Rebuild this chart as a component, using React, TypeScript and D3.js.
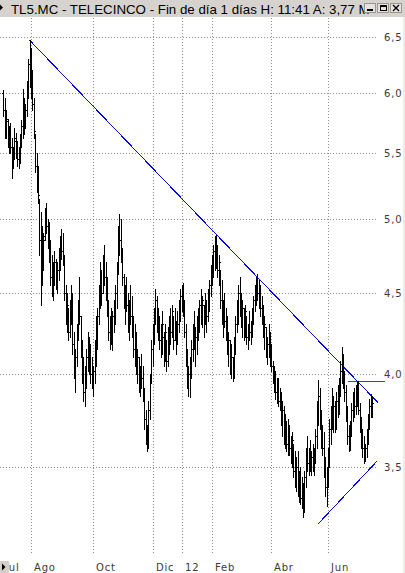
import React, { useMemo } from "react";
import * as d3 from "d3";

const W = 405;
const H = 573;

// Daily bars for TL5.MC, [open, high, low, close], one array per month
const jul11 = [
  [6.0, 6.02, 5.8, 5.85], [5.85, 5.95, 5.62, 5.7], [5.7, 5.85, 5.62, 5.78], [5.76, 5.78, 5.55, 5.6],
  [5.6, 5.72, 5.5, 5.66], [5.65, 5.74, 5.5, 5.55], [5.55, 5.62, 5.31, 5.4], [5.42, 5.55, 5.38, 5.5],
  [5.5, 5.7, 5.45, 5.62], [5.6, 5.66, 5.46, 5.52], [5.52, 5.6, 5.4, 5.45], [5.45, 5.55, 5.38, 5.5],
  [5.5, 5.65, 5.42, 5.6], [5.6, 5.77, 5.55, 5.72], [5.72, 6.03, 5.62, 5.95], [5.92, 5.95, 5.65, 5.75],
  [5.75, 5.9, 5.7, 5.85], [5.85, 6.1, 5.8, 6.05], [6.05, 6.3, 5.95, 6.25], [6.25, 6.47, 6.05, 6.15],
];
const aug11 = [
  [6.15, 6.4, 5.95, 6.0], [6.0, 6.2, 5.85, 5.9], [5.9, 5.95, 5.62, 5.68], [5.62, 5.65, 5.35, 5.4],
  [5.4, 5.5, 5.2, 5.3], [5.3, 5.4, 5.12, 5.18], [5.12, 5.15, 4.75, 4.85], [4.85, 5.05, 4.42, 4.95],
  [4.9, 4.95, 4.55, 4.7], [4.7, 4.9, 4.65, 4.85], [4.88, 5.08, 4.85, 5.0], [5.0, 5.12, 4.9, 4.95],
  [4.95, 5.0, 4.8, 4.85], [4.85, 4.98, 4.7, 4.75], [4.75, 4.85, 4.55, 4.6], [4.6, 4.75, 4.48, 4.55],
  [4.55, 4.7, 4.45, 4.62], [4.62, 4.78, 4.55, 4.7], [4.7, 4.72, 4.52, 4.58], [4.58, 4.7, 4.5, 4.65],
  [4.65, 4.8, 4.58, 4.75], [4.75, 4.88, 4.65, 4.82], [4.82, 4.93, 4.72, 4.78],
];
const sep11 = [
  [4.78, 4.9, 4.68, 4.72], [4.72, 4.75, 4.45, 4.5], [4.5, 4.55, 4.3, 4.35], [4.35, 4.5, 4.25, 4.42],
  [4.4, 4.4, 4.2, 4.25], [4.25, 4.45, 4.22, 4.4], [4.4, 4.55, 4.3, 4.48], [4.48, 4.5, 4.12, 4.18],
  [4.18, 4.25, 3.98, 4.02], [4.02, 4.15, 3.9, 4.1], [4.1, 4.3, 4.05, 4.25], [4.25, 4.45, 4.2, 4.4],
  [4.4, 4.6, 4.3, 4.35], [4.35, 4.35, 4.1, 4.15], [4.15, 4.2, 3.95, 4.0], [4.0, 4.1, 3.85, 3.9],
  [3.9, 4.05, 3.82, 4.0], [4.0, 4.15, 3.92, 4.1], [4.1, 4.25, 4.02, 4.15], [4.15, 4.22, 4.0, 4.05],
  [4.05, 4.18, 3.95, 4.0], [4.0, 4.1, 3.92, 3.98],
];
const oct11 = [
  [3.98, 4.05, 3.88, 4.02], [4.02, 4.2, 3.95, 4.15], [4.15, 4.35, 4.05, 4.3], [4.3, 4.4, 4.15, 4.35],
  [4.35, 4.55, 4.3, 4.5], [4.5, 4.7, 4.4, 4.62], [4.62, 4.65, 4.42, 4.5], [4.5, 4.75, 4.5, 4.7],
  [4.7, 4.82, 4.55, 4.6], [4.6, 4.7, 4.45, 4.5], [4.5, 4.6, 4.35, 4.4], [4.4, 4.45, 4.2, 4.25],
  [4.25, 4.35, 4.15, 4.3], [4.3, 4.4, 4.18, 4.22], [4.22, 4.38, 4.14, 4.35], [4.35, 4.45, 4.25, 4.4],
  [4.4, 4.55, 4.3, 4.5], [4.5, 4.7, 4.4, 4.65], [4.65, 4.95, 4.62, 4.9], [4.9, 5.04, 4.75, 4.85],
  [4.85, 5.0, 4.7, 4.75],
];
const nov11 = [
  [4.75, 4.8, 4.55, 4.6], [4.6, 4.62, 4.4, 4.45], [4.45, 4.55, 4.3, 4.5], [4.5, 4.6, 4.38, 4.42],
  [4.42, 4.5, 4.25, 4.3], [4.3, 4.45, 4.2, 4.4], [4.4, 4.55, 4.3, 4.35], [4.35, 4.48, 4.22, 4.25],
  [4.25, 4.35, 4.1, 4.15], [4.15, 4.3, 4.05, 4.22], [4.22, 4.25, 4.0, 4.05], [4.05, 4.15, 3.95, 4.1],
  [4.1, 4.1, 3.9, 3.95], [3.95, 4.05, 3.88, 4.0], [4.0, 4.12, 3.92, 3.98], [3.98, 4.05, 3.85, 3.88],
  [3.88, 3.92, 3.7, 3.75], [3.75, 3.8, 3.62, 3.68], [3.68, 3.72, 3.58, 3.65], [3.65, 3.85, 3.6, 3.8],
  [3.8, 4.0, 3.75, 3.95], [3.95, 4.2, 3.95, 4.15],
];
const dec11 = [
  [4.15, 4.3, 4.05, 4.25], [4.25, 4.4, 4.18, 4.35], [4.35, 4.52, 4.3, 4.45], [4.45, 4.48, 4.25, 4.3],
  [4.3, 4.4, 4.2, 4.35], [4.35, 4.35, 4.15, 4.2], [4.2, 4.3, 4.1, 4.15], [4.15, 4.38, 4.12, 4.3],
  [4.22, 4.25, 4.05, 4.1], [4.1, 4.3, 4.08, 4.25], [4.2, 4.2, 4.02, 4.08], [4.08, 4.28, 4.05, 4.22],
  [4.22, 4.35, 4.12, 4.3], [4.3, 4.4, 4.18, 4.25], [4.25, 4.42, 4.22, 4.38], [4.35, 4.35, 4.15, 4.2],
  [4.2, 4.4, 4.2, 4.32], [4.3, 4.32, 4.12, 4.18], [4.18, 4.38, 4.18, 4.3], [4.3, 4.45, 4.25, 4.4],
  [4.4, 4.52, 4.32, 4.48],
];
const jan12 = [
  [4.48, 4.55, 4.38, 4.5], [4.5, 4.56, 4.35, 4.4], [4.4, 4.45, 4.22, 4.25], [4.25, 4.3, 4.05, 4.1],
  [4.1, 4.15, 3.92, 3.95], [3.95, 4.05, 3.88, 4.0], [4.0, 4.1, 3.87, 4.05], [4.05, 4.2, 3.98, 4.15],
  [4.15, 4.3, 4.08, 4.25], [4.25, 4.38, 4.15, 4.2], [4.2, 4.28, 4.05, 4.22], [4.22, 4.35, 4.12, 4.3],
  [4.3, 4.4, 4.2, 4.35], [4.35, 4.45, 4.25, 4.42], [4.42, 4.52, 4.3, 4.35], [4.35, 4.48, 4.28, 4.45],
  [4.42, 4.42, 4.22, 4.3], [4.3, 4.5, 4.3, 4.45], [4.45, 4.45, 4.25, 4.35], [4.35, 4.52, 4.32, 4.48],
  [4.48, 4.58, 4.38, 4.55], [4.55, 4.68, 4.48, 4.62],
];
const feb12 = [
  [4.62, 4.75, 4.55, 4.7], [4.7, 4.82, 4.6, 4.78], [4.78, 4.88, 4.65, 4.72], [4.72, 4.89, 4.66, 4.8],
  [4.8, 4.82, 4.6, 4.65], [4.65, 4.75, 4.55, 4.7], [4.65, 4.65, 4.4, 4.45], [4.45, 4.58, 4.3, 4.35],
  [4.35, 4.45, 4.22, 4.4], [4.4, 4.5, 4.28, 4.32], [4.32, 4.4, 4.2, 4.25], [4.25, 4.35, 4.12, 4.15],
  [4.15, 4.25, 4.05, 4.2], [4.2, 4.2, 4.0, 4.05], [4.05, 4.18, 3.98, 4.1], [4.1, 4.1, 3.96, 4.02],
  [4.02, 4.22, 3.98, 4.18], [4.18, 4.35, 4.12, 4.3], [4.3, 4.45, 4.25, 4.4], [4.4, 4.55, 4.3, 4.5],
  [4.5, 4.6, 4.35, 4.42],
];
const mar12 = [
  [4.42, 4.5, 4.28, 4.35], [4.35, 4.45, 4.22, 4.4], [4.4, 4.4, 4.2, 4.25], [4.25, 4.42, 4.22, 4.38],
  [4.35, 4.35, 4.18, 4.22], [4.22, 4.3, 4.15, 4.28], [4.28, 4.38, 4.2, 4.25], [4.25, 4.32, 4.18, 4.3],
  [4.3, 4.4, 4.22, 4.38], [4.38, 4.48, 4.3, 4.45], [4.45, 4.55, 4.38, 4.5], [4.5, 4.6, 4.42, 4.55],
  [4.55, 4.62, 4.45, 4.5], [4.5, 4.58, 4.4, 4.45], [4.45, 4.55, 4.35, 4.4], [4.4, 4.48, 4.3, 4.35],
  [4.35, 4.42, 4.22, 4.25], [4.25, 4.35, 4.15, 4.3], [4.28, 4.28, 4.1, 4.15], [4.15, 4.22, 4.06, 4.18],
  [4.18, 4.3, 4.1, 4.12], [4.12, 4.25, 4.05, 4.08],
];
const apr12 = [
  [4.1, 4.18, 4.02, 4.05], [4.05, 4.08, 3.95, 3.98], [3.98, 4.05, 3.9, 4.0], [4.0, 4.02, 3.86, 3.9],
  [3.9, 3.98, 3.84, 3.95], [3.95, 3.98, 3.82, 3.85], [3.85, 3.92, 3.8, 3.88], [3.88, 3.9, 3.72, 3.75],
  [3.75, 3.85, 3.66, 3.8], [3.8, 3.82, 3.62, 3.65], [3.65, 3.78, 3.6, 3.72], [3.72, 3.74, 3.58, 3.62],
  [3.62, 3.75, 3.56, 3.7], [3.7, 3.72, 3.56, 3.6], [3.6, 3.66, 3.52, 3.55], [3.55, 3.68, 3.5, 3.64],
  [3.62, 3.62, 3.45, 3.48], [3.48, 3.58, 3.4, 3.42], [3.42, 3.55, 3.38, 3.5],
];
const may12 = [
  [3.5, 3.58, 3.36, 3.4], [3.4, 3.48, 3.33, 3.45], [3.45, 3.5, 3.32, 3.35], [3.35, 3.45, 3.3, 3.42],
  [3.4, 3.42, 3.26, 3.3], [3.3, 3.48, 3.28, 3.45], [3.45, 3.6, 3.4, 3.55], [3.55, 3.66, 3.48, 3.52],
  [3.52, 3.6, 3.46, 3.58], [3.58, 3.64, 3.48, 3.5], [3.5, 3.58, 3.46, 3.55], [3.55, 3.62, 3.48, 3.5],
  [3.5, 3.6, 3.46, 3.58], [3.58, 3.7, 3.52, 3.66], [3.66, 3.85, 3.6, 3.8], [3.8, 3.97, 3.72, 3.88],
  [3.88, 3.92, 3.7, 3.75], [3.75, 3.8, 3.6, 3.65], [3.65, 3.72, 3.56, 3.6], [3.6, 3.68, 3.45, 3.48],
  [3.48, 3.55, 3.36, 3.4], [3.4, 3.5, 3.31, 3.45],
];
const jun12 = [
  [3.45, 3.6, 3.4, 3.55], [3.55, 3.75, 3.5, 3.7], [3.7, 3.82, 3.62, 3.78], [3.78, 3.92, 3.7, 3.75],
  [3.75, 3.88, 3.68, 3.82], [3.82, 3.85, 3.68, 3.72], [3.72, 3.9, 3.7, 3.85], [3.85, 3.94, 3.76, 3.8],
  [3.8, 3.98, 3.78, 3.95], [3.95, 4.08, 3.88, 4.02], [4.02, 4.16, 3.95, 4.05], [4.05, 4.12, 3.92, 3.96],
  [3.96, 4.02, 3.85, 3.9], [3.9, 3.94, 3.74, 3.78], [3.78, 3.82, 3.62, 3.66], [3.66, 3.72, 3.58, 3.62],
  [3.62, 3.74, 3.59, 3.7], [3.7, 3.84, 3.66, 3.8], [3.8, 3.9, 3.74, 3.86], [3.86, 3.92, 3.76, 3.82],
  [3.82, 3.94, 3.78, 3.9],
];
const jul12 = [
  [3.9, 3.96, 3.82, 3.88], [3.88, 3.96, 3.78, 3.8], [3.8, 3.84, 3.68, 3.72], [3.72, 3.76, 3.6, 3.64],
  [3.64, 3.7, 3.55, 3.6], [3.6, 3.66, 3.52, 3.56], [3.56, 3.62, 3.53, 3.6], [3.6, 3.7, 3.55, 3.66],
  [3.66, 3.78, 3.62, 3.74], [3.74, 3.86, 3.7, 3.82], [3.82, 3.89, 3.76, 3.85], [3.77, 3.88, 3.76, 3.84],
];

const MONTHS = [jul11, aug11, sep11, oct11, nov11, dec11, jan12, feb12, mar12, apr12, may12, jun12, jul12];

// Trading calendar (weekdays, exchange holidays removed)
const FIRST_DAY = "2011-07-04";
const LAST_DAY = "2012-07-17";
const HOLIDAYS = ["2011-12-26", "2012-04-06", "2012-04-09", "2012-05-01"];

// Right-hand price axis
const PRICE_TICKS = [3.5, 4.0, 4.5, 5.0, 5.5, 6.0, 6.5];
const PRICE_MIN = 3.0845;
const PRICE_MAX = 6.68;

// Month labels along the bottom
const MONTH_TICKS = [
  { month: "2011-07", label: "Jul", grid: false },
  { month: "2011-08", label: "Ago", grid: true },
  { month: "2011-10", label: "Oct", grid: true },
  { month: "2011-12", label: "Dic", grid: true },
  { month: "2012-01", label: "12", grid: true },
  { month: "2012-02", label: "Feb", grid: true },
  { month: "2012-04", label: "Abr", grid: true },
  { month: "2012-06", label: "Jun", grid: true },
];

// Drawn studies: [trading-day index, price]
const RESISTANCE = [[19, 6.47], [271.3, 3.84]];
const SUPPORT = [[227.8, 3.225], [270.5, 3.53]];
const LEVEL = { from: 249.5, to: 276.3, price: 3.96 };

const TITLE = "TL5.MC - TELECINCO - Fin de día 1 días H: 11:41 A: 3,77 M";

const parseDay = d3.timeParse("%Y-%m-%d");
const fmtDay = d3.timeFormat("%Y-%m-%d");
const fmtMonth = d3.timeFormat("%Y-%m");
const fmtPrice = (v: number) => d3.format(".1f")(v).replace(".", ",");

const AXIS_FONT = "'DejaVu Sans', Verdana, sans-serif";

export default function App() {
  const { bars, x, y, monthTicks } = useMemo(() => {
    const days = d3
      .timeDay.range(parseDay(FIRST_DAY)!, d3.timeDay.offset(parseDay(LAST_DAY)!, 1))
      .filter((d) => d.getDay() % 6 !== 0 && !HOLIDAYS.includes(fmtDay(d)));
    const flat = MONTHS.flat();
    const bars = flat.map((b, i) => ({ i, date: days[i], o: b[0], h: b[1], l: b[2], c: b[3] }));
    const x = d3.scaleLinear().domain([0, bars.length - 1]).range([3.4, 372.1]);
    const y = d3.scaleLog().domain([PRICE_MIN, PRICE_MAX]).range([555, 18]);
    const monthTicks = MONTH_TICKS.map((t) => {
      const idx = bars.findIndex((b) => fmtMonth(b.date) === t.month);
      const pos = t.grid ? x(idx) : x(idx - 1);
      return { ...t, x: Math.round(pos) };
    });
    return { bars, x, y, monthTicks };
  }, []);

  const line = d3
    .line<number[]>()
    .x((d) => x(d[0]))
    .y((d) => y(d[1]));

  const barPath = (b: { i: number; o: number; h: number; l: number; c: number }) => {
    const cx = Math.round(x(b.i)) + 0.5;
    const yh = Math.round(y(b.h));
    const yl = Math.round(y(b.l));
    const yo = Math.round(y(b.o)) + 0.5;
    const yc = Math.round(y(b.c)) + 0.5;
    return `M${cx},${yh}V${yl + 1}M${cx - 1.5},${yo}H${cx}M${cx},${yc}H${cx + 1.5}`;
  };

  return (
    <svg
      width={W}
      height={H}
      viewBox={`0 0 ${W} ${H}`}
      style={{ position: "absolute", left: 0, top: 0, display: "block", background: "#ffffff" }}
    >
      {/* price grid */}
      <g shapeRendering="crispEdges">
        {PRICE_TICKS.map((v) => {
          const gy = Math.round(y(v)) + 0.5;
          return (
            <line key={v} x1={0} x2={378} y1={gy} y2={gy} stroke="#8c8c8c" strokeDasharray="1 2" />
          );
        })}
        {monthTicks
          .filter((t) => t.grid)
          .map((t) => (
            <line key={t.month} x1={t.x + 0.5} x2={t.x + 0.5} y1={18} y2={554} stroke="#8c8c8c" strokeDasharray="1 2" />
          ))}
      </g>

      {/* price labels */}
      <g fontFamily={AXIS_FONT} fontSize={10} fill="#3a3a3a" letterSpacing={0.8}>
        {PRICE_TICKS.map((v) => (
          <text key={v} x={384} y={Math.round(y(v)) + 4}>
            {fmtPrice(v)}
          </text>
        ))}
      </g>

      {/* studies */}
      <g fill="none" shapeRendering="crispEdges">
        <path d={line(RESISTANCE) ?? ""} stroke="#0000ff" strokeWidth={1} />
        <path d={line(SUPPORT) ?? ""} stroke="#0000ff" strokeWidth={1} />
        <line
          x1={x(LEVEL.from)}
          x2={x(LEVEL.to)}
          y1={Math.round(y(LEVEL.price)) + 0.5}
          y2={Math.round(y(LEVEL.price)) + 0.5}
          stroke="#ff0000"
          strokeWidth={1}
        />
      </g>

      {/* OHLC bars */}
      <g fill="none" stroke="#000000" strokeWidth={1} shapeRendering="crispEdges">
        {bars.map((b) => (
          <path key={b.i} d={barPath(b)} />
        ))}
      </g>

      {/* month labels */}
      <g fontFamily={AXIS_FONT} fontSize={10} fill="#3a3a3a" letterSpacing={0.8}>
        {monthTicks.map((t) => (
          <text key={t.month} x={t.x + 3} y={571}>
            {t.label}
          </text>
        ))}
      </g>

      {/* scroll button, bottom left */}
      <rect x={0} y={561} width={9} height={12} fill="#d4d0c8" />
      <path d="M2,563.5L5.5,567L2,570.5Z" fill="#000000" />

      {/* right border */}
      <rect x={403} y={17} width={2} height={H - 17} fill="#efede0" />

      {/* title bar */}
      <rect x={0} y={0} width={W} height={17} fill="#d6d3ce" />
      <path d="M0,4.5L3,7.5L0,10.5Z" fill="#000000" />
      <text x={11} y={13.5} fontFamily="'Liberation Sans', Arial, sans-serif" fontSize={13.3} fill="#000000">
        {TITLE}
      </text>

      {/* window buttons */}
      <g shapeRendering="crispEdges">
        {[364, 377, 390].map((bx, k) => (
          <g key={bx}>
            <rect x={bx + 0.5} y={3.5} width={11} height={9} fill="#e6e3de" stroke="#9a978f" />
            {k === 0 && <rect x={bx + 3} y={9} width={6} height={2} fill="#000" />}
            {k === 1 && (
              <g>
                <rect x={bx + 3.5} y={5.5} width={6} height={5} fill="none" stroke="#000" />
                <rect x={bx + 3} y={5} width={7} height={2} fill="#000" />
              </g>
            )}
            {k === 2 && (
              <path
                d={`M${bx + 3},${5}L${bx + 9},${11}M${bx + 9},${5}L${bx + 3},${11}`}
                stroke="#000"
                strokeWidth={1.4}
                shapeRendering="auto"
              />
            )}
          </g>
        ))}
      </g>
    </svg>
  );
}
